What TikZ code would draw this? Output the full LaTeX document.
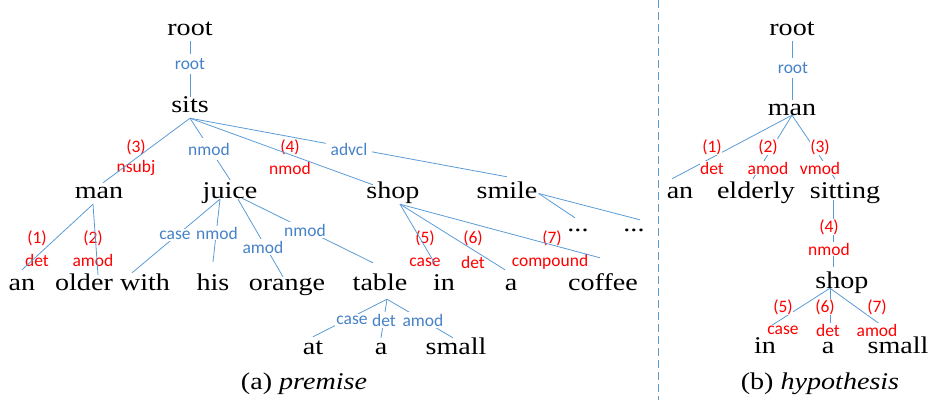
\documentclass[tikz,border=0pt]{standalone}
\usepackage{fontspec}
\newfontfamily\wordfont{Liberation Serif}[FakeStretch=1.17]
\newfontfamily\labfont{Carlito}
\definecolor{lineblue}{RGB}{91,155,213}
\definecolor{labblue}{RGB}{70,130,200}
\definecolor{labred}{RGB}{255,0,0}
\begin{document}
\begin{tikzpicture}[x=1pt,y=-1pt,
  word/.style={font=\wordfont\fontsize{24}{28}\selectfont, inner sep=1pt,
    text height=14pt, text depth=5pt, anchor=base},
  caption/.style={font=\wordfont\fontsize{24}{28}\selectfont, inner sep=0pt, anchor=base},
  lab/.style={font=\labfont\fontsize{17.5}{20}\selectfont},
  blab/.style={lab, text=labblue, fill=white, inner sep=4.5pt},
  rlab/.style={lab, text=labred, inner sep=0.5pt},
  rlabf/.style={rlab, fill=white},
  dep/.style={draw=lineblue, line width=0.8pt},
  divider/.style={draw=lineblue, line width=0.9pt, dash pattern=on 8pt off 4pt}]
\useasboundingbox (0,0) rectangle (931,400);

% ---------------- premise tree ----------------
\node[word] (rootL)  at (190,35)  {root};
\node[word] (sits)   at (190,112) {sits};
\node[word] (man)    at (99,198)  {man};
\node[word] (juice)  at (230,198) {juice};
\node[word] (shop)   at (393,198) {shop};
\node[word] (smile)  at (507,198) {smile};
\node[word] (dotsA)  at (578,231) {...};
\node[word] (dotsB)  at (634,231) {...};
\node[word] (an)     at (22,290)  {an};
\node[word] (older)  at (84,290)  {older};
\node[word] (with)   at (145,290) {with};
\node[word] (his)    at (213,290) {his};
\node[word] (orange) at (287,290) {orange};
\node[word] (table)  at (380,290) {table};
\node[word] (in)     at (444,290) {in};
\node[word] (a)      at (511,290) {a};
\node[word] (coffee) at (603,290) {coffee};
\node[word] (at)     at (313,354) {at};
\node[word] (aT)     at (381,354) {a};
\node[word] (small)  at (456,354) {small};

% red annotations sit under the arcs
\node[rlab] (n3)   at (136,147) {(3)};
\node[rlab] (l3)   at (136,168) {nsubj};
\node[rlab] (n4)   at (290,147) {(4)};
\node[rlab] (l4)   at (290,168) {nmod};
\node[rlab] (n1)   at (37,238)  {(1)};
\node[rlab] (l1)   at (37,260)  {det};
\node[rlab] (n2)   at (93,238)  {(2)};
\node[rlab] (l2)   at (93,260)  {amod};
\node[rlab] (n5)   at (425,238) {(5)};
\node[rlab] (l5)   at (425,262) {case};
\node[rlab] (n6)   at (473,238) {(6)};
\node[rlab] (l6)   at (473,262) {det};
\node[rlab] (n7)   at (552,238) {(7)};
\node[rlab] (l7)   at (550,262) {compound};

\draw[dep] (rootL.south) -- (sits.north);
\draw[dep] (sits.south) -- ([xshift=4pt]man.north);
\draw[dep] (sits.south) -- ([yshift=3pt]juice.north);
\draw[dep] (sits.south) -- ([xshift=-20pt,yshift=-2pt]shop.north);
\draw[dep] (sits.south) -- ([yshift=6pt]smile.north);
\draw[dep] ([xshift=-6pt]man.south) -- ([yshift=5pt]an.north);
\draw[dep] ([xshift=-6pt]man.south) -- ([xshift=14pt]older.north);
\draw[dep] ([xshift=-10pt,yshift=5pt]juice.south) -- ([xshift=-13pt,yshift=2pt]with.north);
\draw[dep] ([xshift=-10pt,yshift=5pt]juice.south) -- ([yshift=13pt]his.north);
\draw[dep] ([xshift=8pt,yshift=5pt]juice.south) -- ([xshift=-4pt,yshift=-2pt]orange.north);
\draw[dep] ([xshift=12pt,yshift=6pt]juice.south) -- ([xshift=-7pt,yshift=12pt]table.north);
\draw[dep] ([xshift=7pt]shop.south) -- ([xshift=-9pt,yshift=11pt]in.north);
\draw[dep] ([xshift=7pt]shop.south) -- ([xshift=-6pt,yshift=5pt]a.north);
\draw[dep] ([xshift=7pt]shop.south) -- ([xshift=-3pt,yshift=17pt]coffee.north);
\draw[dep] (smile.east) -- ([xshift=-3pt,yshift=-2pt]dotsA.north);
\draw[dep] (smile.east) -- ([xshift=6pt,yshift=-4pt]dotsB.north);
\draw[dep] ([xshift=7pt,yshift=-3pt]table.south) -- ([yshift=2pt]at.north);
\draw[dep] ([xshift=7pt,yshift=-3pt]table.south) -- ([yshift=1pt]aT.north);
\draw[dep] ([xshift=7pt,yshift=-3pt]table.south) -- ([xshift=-3pt,yshift=1pt]small.north);

% blue relation labels break the arcs they name
\node[blab] (rRootL) at (190,64)  {root};
\node[blab] (rNmodA) at (209,149) {nmod};
\node[blab] (rAdvcl) at (349,149) {advcl};
\node[blab, inner sep=2pt] (rCase)  at (175,235) {case};
\node[blab, inner sep=1pt] (rNmodB) at (217,233) {nmod};
\node[blab, inner sep=2pt] (rAmod)  at (263,247) {amod};
\node[blab, inner sep=2pt] (rNmodC) at (305,230) {nmod};
\node[blab, inner sep=1.5pt] (rCaseT) at (352,320) {case};
\node[blab, inner sep=1.5pt] (rDetT)  at (384,320) {det};
\node[blab, inner sep=1.5pt] (rAmodT) at (423,320) {amod};

\node[caption] (capA) at (304,389) {(a) \textit{premise}};

% ---------------- separator ----------------
\draw[divider] (658,0) -- (658,400);

% ---------------- hypothesis tree ----------------
\node[word] (rootR)   at (792,35)  {root};
\node[word] (manR)    at (792,115) {man};
\node[word] (anR)     at (680,198) {an};
\node[word] (elderly) at (756,198) {elderly};
\node[word] (sitting) at (845,198) {sitting};
\node[word] (shopR)   at (842,288) {shop};
\node[word] (inR)     at (765,353) {in};
\node[word] (aR)      at (828,353) {a};
\node[word] (smallR)  at (898,353) {small};

\draw[dep] (rootR.south) -- (manR.north);
\draw[dep] ([yshift=6pt]manR.south) -- ([xshift=-8pt,yshift=4pt]anR.north);
\draw[dep] ([yshift=6pt]manR.south) -- ([xshift=-3pt,yshift=4pt]elderly.north);
\draw[dep] ([yshift=6pt]manR.south) -- ([xshift=-10pt,yshift=4pt]sitting.north);
\draw[dep] ([xshift=-12pt,yshift=4pt]sitting.south) -- ([xshift=-9pt,yshift=6pt]shopR.north);
\draw[dep] ([xshift=-12pt,yshift=6pt]shopR.south) -- ([xshift=3pt,yshift=10pt]inR.north);
\draw[dep] ([xshift=-12pt,yshift=6pt]shopR.south) -- ([xshift=2pt,yshift=8pt]aR.north);
\draw[dep] ([xshift=-12pt,yshift=6pt]shopR.south) -- ([xshift=-13pt,yshift=10pt]smallR.north);

\node[blab] (rRootR) at (793,68) {root};
\node[rlabf] (h1)  at (712,147) {(1)};
\node[rlabf] (hl1) at (712,168) {det};
\node[rlabf] (h2)  at (768,147) {(2)};
\node[rlabf] (hl2) at (768,168) {amod};
\node[rlabf] (h3)  at (820,147) {(3)};
\node[rlabf] (hl3) at (820,168) {vmod};
\node[rlabf] (h4)  at (829,227) {(4)};
\node[rlabf] (hl4) at (829,249) {nmod};
\node[rlabf] (h5)  at (783,307) {(5)};
\node[rlabf] (hl5) at (783,330) {case};
\node[rlabf] (h6)  at (825,307) {(6)};
\node[rlabf] (hl6) at (828,330) {det};
\node[rlabf] (h7)  at (877,307) {(7)};
\node[rlabf] (hl7) at (877,330) {amod};

\node[caption] (capB) at (820,389) {(b) \textit{hypothesis}};
\end{tikzpicture}
\end{document}
